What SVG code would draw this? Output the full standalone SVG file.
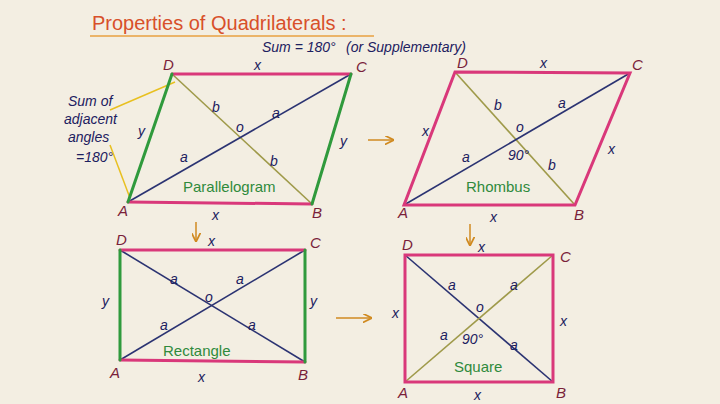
<svg xmlns="http://www.w3.org/2000/svg" width="720" height="404" viewBox="0 0 720 404">
<defs>
<style>
.pk{stroke:#d9387a;stroke-width:3;fill:none;stroke-linecap:round}
.gr{stroke:#2f9a3c;stroke-width:3;fill:none;stroke-linecap:round}
.dg{stroke:#2b3372;stroke-width:1.6;fill:none}
.ol{stroke:#9f9a4a;stroke-width:1.6;fill:none}
.ar{stroke:#d08a20;stroke-width:1.5;fill:none}
.t{font-family:"Liberation Sans",sans-serif;fill:#1c2060;font-size:14px;font-style:italic}
.v{font-family:"Liberation Sans",sans-serif;fill:#7a1f3a;font-size:15px;font-style:italic}
.n{font-family:"Liberation Sans",sans-serif;fill:#2f8a3c;font-size:15px}
.yl{stroke:#e8c020;stroke-width:1.5}
</style>
<marker id="m" viewBox="0 0 10 10" refX="8" refY="5" markerWidth="6" markerHeight="6" orient="auto"><path d="M0,0L10,5L0,10" fill="none" stroke="#d08a20" stroke-width="2"/></marker>
</defs>
<rect width="720" height="404" fill="#f3eee2"/>
<text x="92" y="30" font-family="Liberation Sans,sans-serif" font-size="20" fill="#d8502a">Properties of Quadrilaterals :</text>
<line x1="90" y1="36" x2="374" y2="36" stroke="#e8a040" stroke-width="1.5"/>
<text x="262" y="52" class="t" font-style="normal" fill="#222">Sum = 180°</text>
<text x="346" y="52" class="t" font-style="normal" fill="#c08030">(or Supplementary)</text>
<g id="note"><text class="t" font-style="normal" fill="#222"><tspan x="68" y="106">Sum of</tspan><tspan x="64" y="124">adjacent</tspan><tspan x="68" y="142">angles</tspan><tspan x="76" y="162">=180°</tspan></text>
<line class="yl" x1="110" y1="110" x2="175" y2="82"/><line class="yl" x1="110" y1="145" x2="130" y2="198"/></g>
<g id="connectors">
<line class="ar" x1="368" y1="140" x2="392" y2="140" marker-end="url(#m)"/>
<line class="ar" x1="196" y1="222" x2="196" y2="240" marker-end="url(#m)"/>
<line class="ar" x1="470" y1="224" x2="470" y2="244" marker-end="url(#m)"/>
<line class="ar" x1="336" y1="318" x2="370" y2="318" marker-end="url(#m)"/>
</g>
<g id="parallelogram">
<line class="ol" x1="172" y1="74" x2="312" y2="204"/>
<line class="dg" x1="128" y1="202" x2="351" y2="74"/>
<line class="pk" x1="172" y1="74" x2="351" y2="74"/><line class="pk" x1="128" y1="202" x2="312" y2="204"/>
<line class="gr" x1="128" y1="202" x2="172" y2="74"/><line class="gr" x1="312" y1="204" x2="351" y2="74"/>
<text class="v" x="163" y="70">D</text><text class="v" x="356" y="72">C</text><text class="v" x="118" y="216">A</text><text class="v" x="312" y="218">B</text>
<text class="t" x="254" y="70">x</text><text class="t" x="212" y="220">x</text><text class="t" x="138" y="136">y</text><text class="t" x="340" y="146">y</text>
<text class="t" x="180" y="162">a</text><text class="t" x="272" y="118">a</text><text class="t" x="212" y="112">b</text><text class="t" x="270" y="166">b</text><text class="t" x="236" y="132">o</text>
<text class="n" x="183" y="192">Parallelogram</text>
</g>
<g id="rhombus">
<line class="ol" x1="455" y1="72" x2="575" y2="205"/>
<line class="dg" x1="404" y1="205" x2="630" y2="73"/>
<polygon class="pk" points="455,72 630,73 575,205 404,205"/>
<text class="v" x="457" y="68">D</text><text class="v" x="632" y="70">C</text><text class="v" x="398" y="218">A</text><text class="v" x="574" y="220">B</text>
<text class="t" x="540" y="68">x</text><text class="t" x="490" y="222">x</text><text class="t" x="422" y="136">x</text><text class="t" x="608" y="154">x</text>
<text class="t" x="462" y="162">a</text><text class="t" x="558" y="108">a</text><text class="t" x="494" y="110">b</text><text class="t" x="548" y="170">b</text><text class="t" x="516" y="132">o</text>
<text class="t" x="508" y="160" font-size="11">90°</text>
<text class="n" x="466" y="192" fill="#333">Rhombus</text>
</g>
<g id="rectangle">
<line class="dg" x1="120" y1="250" x2="305" y2="362"/><line class="dg" x1="120" y1="360" x2="305" y2="250"/>
<line class="pk" x1="120" y1="250" x2="305" y2="250"/><line class="pk" x1="120" y1="360" x2="305" y2="362"/>
<line class="gr" x1="120" y1="250" x2="120" y2="360"/><line class="gr" x1="305" y1="250" x2="305" y2="362"/>
<text class="v" x="116" y="245">D</text><text class="v" x="310" y="248">C</text><text class="v" x="110" y="378">A</text><text class="v" x="298" y="380">B</text>
<text class="t" x="208" y="246">x</text><text class="t" x="198" y="382">x</text><text class="t" x="102" y="306">y</text><text class="t" x="310" y="306">y</text>
<text class="t" x="170" y="284">a</text><text class="t" x="236" y="284">a</text><text class="t" x="160" y="330">a</text><text class="t" x="248" y="330">a</text><text class="t" x="205" y="302">o</text>
<text class="n" x="163" y="356">Rectangle</text>
</g>
<g id="square">
<line class="dg" x1="405" y1="255" x2="553" y2="382"/><line class="ol" x1="405" y1="382" x2="553" y2="255"/>
<rect class="pk" x="405" y="255" width="148" height="127"/>
<text class="v" x="402" y="250">D</text><text class="v" x="560" y="262">C</text><text class="v" x="398" y="398">A</text><text class="v" x="556" y="398">B</text>
<text class="t" x="478" y="252">x</text><text class="t" x="474" y="400">x</text><text class="t" x="392" y="318">x</text><text class="t" x="560" y="326">x</text>
<text class="t" x="448" y="290">a</text><text class="t" x="510" y="290">a</text><text class="t" x="440" y="340">a</text><text class="t" x="510" y="350">a</text><text class="t" x="476" y="312">o</text>
<text class="t" x="462" y="344" font-size="11">90°</text>
<text class="n" x="454" y="372">Square</text>
</g>
</svg>
